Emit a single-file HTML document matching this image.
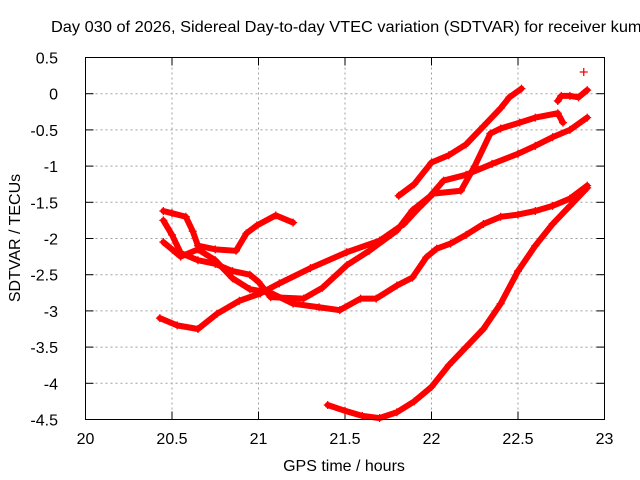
<!DOCTYPE html>
<html><head><meta charset="utf-8"><style>
body{margin:0;background:#fff;}
svg{display:block;font-family:"Liberation Sans",sans-serif;}
</style></head><body>
<svg id="chart" width="640" height="480" viewBox="0 0 640 480">
<text x="51" y="32" font-size="16" textLength="596" lengthAdjust="spacingAndGlyphs" fill="#000">Day 030 of 2026, Sidereal Day-to-day VTEC variation (SDTVAR) for receiver kumr</text>
<text x="344" y="471" font-size="16" text-anchor="middle">GPS time / hours</text>
<text transform="translate(20,238) rotate(-90)" font-size="16" text-anchor="middle">SDTVAR / TECUs</text>
<g id="grid"></g>
<g id="ticks"></g>
<g id="series"></g>
<rect x="85.5" y="57.5" width="519" height="362" fill="none" stroke="#000"/>
</svg>
<script>
const xTicks=[20,20.5,21,21.5,22,22.5,23];
const yTicks=[0.5,0,-0.5,-1,-1.5,-2,-2.5,-3,-3.5,-4,-4.5];
const seriesT1x=[21.81,21.9,22.0,22.1,22.2,22.3,22.4,22.45,22.52];
const seriesT1y=[-1.41,-1.25,-0.95,-0.85,-0.7,-0.45,-0.2,-0.05,0.07];
const seriesT2x=[20.43,20.53,20.65,20.76,20.89,21.01,21.12,21.3,21.51,21.7,21.84,21.93,22.01,22.17,22.25,22.34,22.4,22.51,22.6,22.73,22.76];
const seriesT2y=[-3.1,-3.2,-3.25,-3.04,-2.86,-2.76,-2.62,-2.41,-2.19,-2.03,-1.8,-1.57,-1.38,-1.34,-1.0,-0.55,-0.48,-0.4,-0.33,-0.27,-0.4];
const seriesT3x=[20.45,20.5,20.55,20.65,20.75,20.85,20.95,21.0,21.07,21.26,21.37,21.51,21.64,21.8,21.89,21.99,22.07,22.2,22.35,22.5,22.6,22.7,22.8,22.9];
const seriesT3y=[-1.75,-1.95,-2.2,-2.3,-2.35,-2.45,-2.5,-2.6,-2.81,-2.83,-2.68,-2.37,-2.17,-1.89,-1.61,-1.42,-1.2,-1.12,-0.97,-0.83,-0.72,-0.6,-0.5,-0.33];
const seriesTAx=[20.45,20.55,20.65,20.75,20.85,20.95,21.07,21.2,21.35,21.47,21.59,21.68,21.8,21.89,21.97,22.03,22.11,22.2,22.3,22.4,22.5,22.6,22.7,22.8,22.9];
const seriesTAy=[-2.05,-2.25,-2.15,-2.3,-2.55,-2.7,-2.75,-2.9,-2.95,-2.99,-2.83,-2.83,-2.65,-2.54,-2.26,-2.14,-2.07,-1.95,-1.8,-1.7,-1.67,-1.62,-1.55,-1.45,-1.27];
const seriesT4x=[21.4,21.5,21.6,21.7,21.8,21.9,22.0,22.1,22.2,22.3,22.4,22.5,22.6,22.7,22.8,22.9];
const seriesT4y=[-4.3,-4.38,-4.45,-4.48,-4.4,-4.25,-4.05,-3.75,-3.5,-3.25,-2.9,-2.45,-2.1,-1.8,-1.55,-1.3];
const seriesT6x=[20.45,20.5,20.58,20.62,20.65,20.75,20.87,20.93,20.99,21.1,21.2];
const seriesT6y=[-1.62,-1.65,-1.7,-1.9,-2.1,-2.15,-2.17,-1.93,-1.82,-1.68,-1.78];
const seriesT8x=[22.73,22.75,22.8,22.85,22.9];
const seriesT8y=[-0.1,-0.03,-0.03,-0.05,0.05];
const seriesT9x=[22.88];
const seriesT9y=[0.3];
const allSeries=[[seriesT1x,seriesT1y],[seriesT2x,seriesT2y],[seriesT3x,seriesT3y],[seriesTAx,seriesTAy],[seriesT4x,seriesT4y],[seriesT6x,seriesT6y],[seriesT8x,seriesT8y],[seriesT9x,seriesT9y]];
const NS='http://www.w3.org/2000/svg';
const X0=85.5,X1=604.5,Y0=57.5,Y1=419.5;
function sx(v){return X0+(v-20)/3*(X1-X0);}
function sy(v){return Y0+(0.5-v)/5*(Y1-Y0);}
function mk(t,a,p){const e=document.createElementNS(NS,t);for(const k in a)e.setAttribute(k,a[k]);p.appendChild(e);return e;}
const grid=document.getElementById('grid'),ticks=document.getElementById('ticks'),ser=document.getElementById('series');
xTicks.forEach(v=>{const x=sx(v);
 if(v>20&&v<23){const g=mk('line',{x1:x,x2:x,y1:Y0,y2:Y1,stroke:'#a0a0a0','stroke-dasharray':'2,3'},grid);
 
 }
 mk('line',{x1:x,x2:x,y1:Y1,y2:Y1-8,stroke:'#000'},ticks);
 mk('line',{x1:x,x2:x,y1:Y0,y2:Y0+8,stroke:'#000'},ticks);
 const t=mk('text',{x:x,y:444,'font-size':16,'text-anchor':'middle'},ticks);t.textContent=String(v);
 
 
});
yTicks.forEach(v=>{const y=sy(v);
 if(v<0.5&&v>-4.5){const g=mk('line',{x1:X0,x2:X1,y1:y,y2:y,stroke:'#a0a0a0','stroke-dasharray':'2,3'},grid);
 
 }
 mk('line',{x1:X0,x2:X0+8,y1:y,y2:y,stroke:'#000'},ticks);
 mk('line',{x1:X1,x2:X1-8,y1:y,y2:y,stroke:'#000'},ticks);
 const t=mk('text',{x:58,y:y+6,'font-size':16,'text-anchor':'end'},ticks);t.textContent=String(v);
 
 
});
allSeries.forEach(([xs,ys],i)=>{
 const g=mk('g',{},ser);
 
 
 if(xs.length>1){const pts=xs.map((v,j)=>sx(v)+','+sy(ys[j])).join(' ');
  mk('polyline',{points:pts,fill:'none',stroke:'#ff0000','stroke-width':6,'stroke-linejoin':'round','stroke-linecap':'round'},g);}
 xs.forEach((v,j)=>{const x=sx(v),y=sy(ys[j]);
  const p=mk('path',{d:`M${x-4},${y}H${x+4}M${x},${y-4}V${y+4}`,stroke:'#ff0000','stroke-width':1.3},g);
  
  
 });
});
</script>
</body></html>
